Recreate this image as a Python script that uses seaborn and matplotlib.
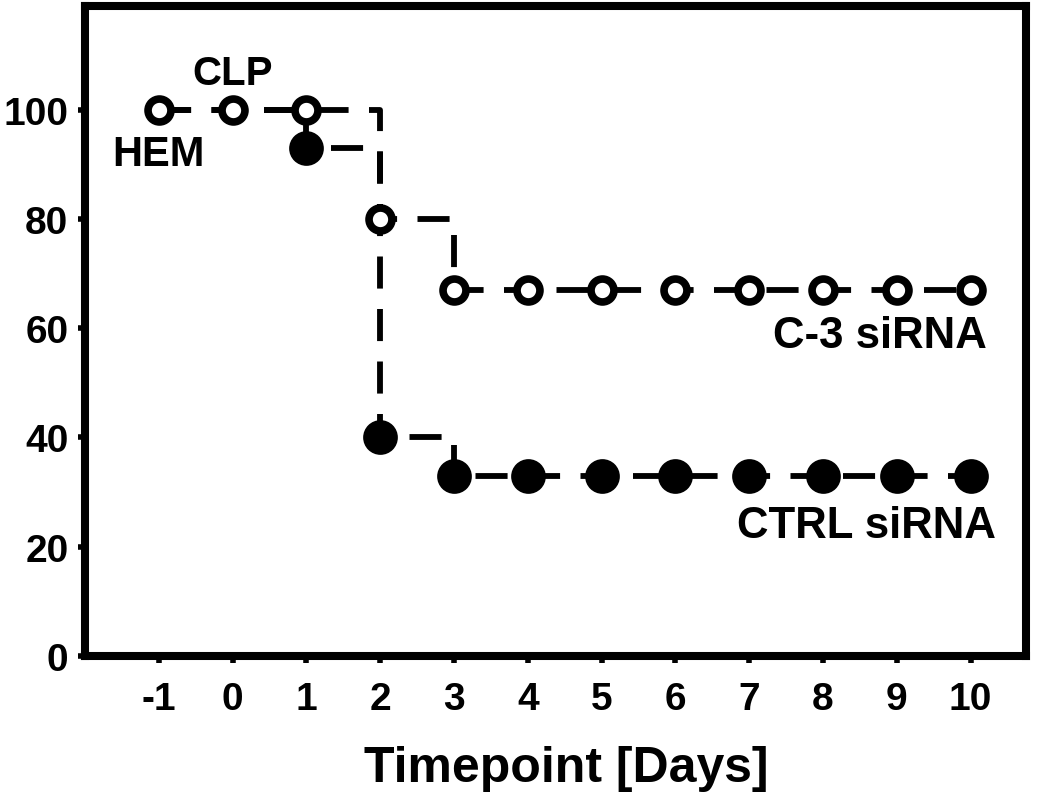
import matplotlib
matplotlib.use("Agg")
import matplotlib.pyplot as plt
import seaborn as sns
import pandas as pd

# data
days = [-1, 0, 1, 2, 3, 4, 5, 6, 7, 8, 9, 10]
c3_sirna = [100, 100, 100, 80, 67, 67, 67, 67, 67, 67, 67, 67]
ctrl_sirna = [100, 100, 93, 40, 33, 33, 33, 33, 33, 33, 33, 33]
yticks = [0, 20, 40, 60, 80, 100]

sns.set_theme(style="ticks")
plt.rcParams['font.family'] = ['Liberation Sans', 'DejaVu Sans']
plt.rcParams['font.weight'] = 'bold'
plt.rcParams['text.color'] = 'black'
plt.rcParams['xtick.color'] = 'black'
plt.rcParams['ytick.color'] = 'black'
plt.rcParams['axes.labelcolor'] = 'black'

df_c3 = pd.DataFrame({'day': days, 'surv': c3_sirna})
df_ctrl = pd.DataFrame({'day': days, 'surv': ctrl_sirna})

fig = plt.figure(figsize=(10.5, 8.03), dpi=100)
ax = fig.add_axes([0.081, 0.182, 0.896, 0.809])

# CTRL first (markers only from day 1), open circles drawn on top
sns.lineplot(data=df_ctrl, x='day', y='surv', ax=ax, color='black',
             drawstyle='steps-post', lw=4.2, dashes=False,
             marker='o', markersize=25, markerfacecolor='black',
             markeredgewidth=0, markevery=list(range(2, len(days))), zorder=3)
sns.lineplot(data=df_c3, x='day', y='surv', ax=ax, color='black',
             drawstyle='steps-post', lw=4.2, dashes=False,
             marker='o', markersize=16.5, markerfacecolor='white',
             markeredgecolor='black', markeredgewidth=5.5, zorder=4)
for ln in ax.get_lines():
    ln.set_dashes((5.5, 3.5))

ax.set_xlim(-2.0, 10.75)
ax.set_ylim(0, 119)
ax.set_xticks(days)
ax.set_xticklabels([str(d) for d in days])
ax.set_yticks(yticks)

for s in ax.spines.values():
    s.set_visible(True)
    s.set_linewidth(5.8)
    s.set_color('black')

ax.tick_params(axis='both', direction='out', length=5, width=4, color='black',
               labelsize=28)
ax.tick_params(axis='x', pad=13)
ax.tick_params(axis='y', pad=7)
for lab in ax.get_xticklabels() + ax.get_yticklabels():
    lab.set_fontweight('bold')

ax.set_xlabel('Timepoint [Days]', fontsize=36, fontweight='bold')
ax.xaxis.set_label_coords(0.512, -0.137)
ax.set_ylabel('')

ax.text(0, 106.8, 'CLP', ha='center', va='center', fontsize=29, fontweight='bold')
ax.text(-1, 92, 'HEM', ha='center', va='center', fontsize=30, fontweight='bold')
ax.text(10.22, 58.7, 'C-3 siRNA', ha='right', va='center', fontsize=31.5, fontweight='bold')
ax.text(10.34, 23.9, 'CTRL siRNA', ha='right', va='center', fontsize=31.5, fontweight='bold')

fig.savefig('out.png', dpi=100)
